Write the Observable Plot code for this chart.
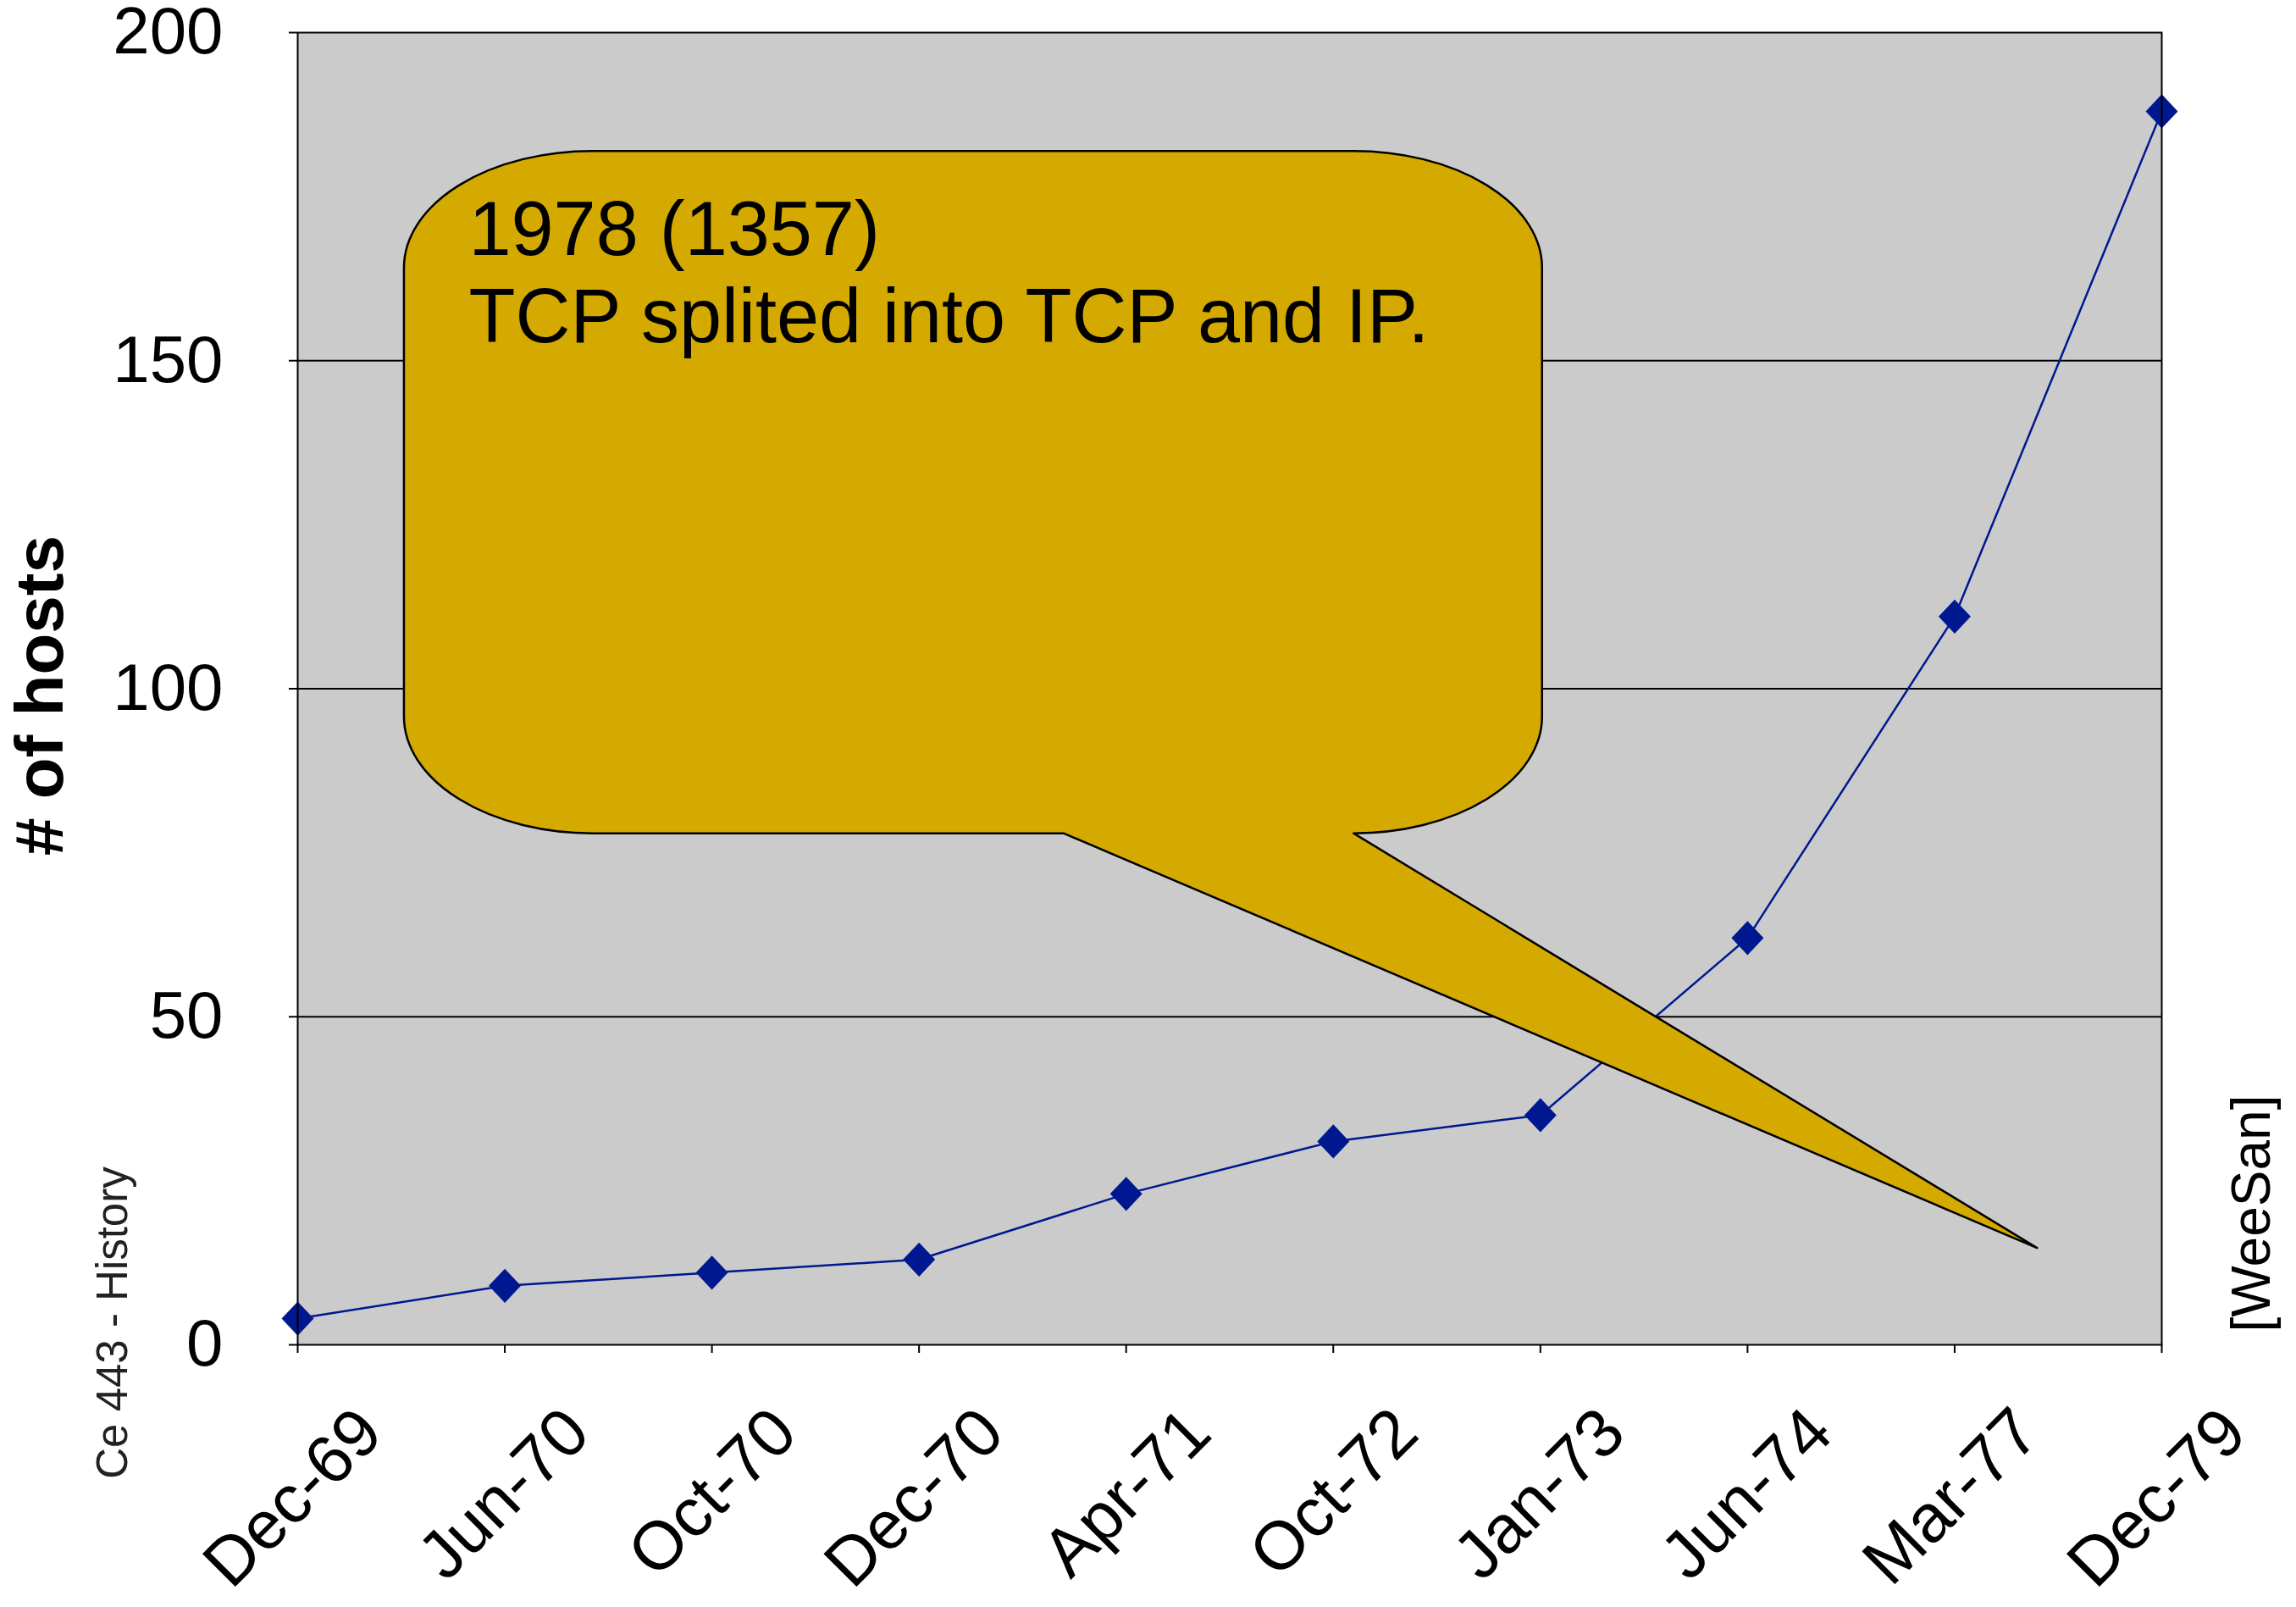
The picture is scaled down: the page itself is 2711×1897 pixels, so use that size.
<!DOCTYPE html>
<html><head><meta charset="utf-8">
<script src="https://cdn.jsdelivr.net/npm/d3@7"></script>
<script src="https://cdn.jsdelivr.net/npm/@observablehq/plot@0.6"></script>
<style>html,body{margin:0;padding:0;background:#fff}</style>
</head><body><div id="chart"></div>
<script>
const categories = ["Dec-69","Jun-70","Oct-70","Dec-70","Apr-71","Oct-72","Jan-73","Jun-74","Mar-77","Dec-79"];
const hosts = [4, 9, 11, 13, 23, 31, 35, 62, 111, 188];
const yTicks = [0, 50, 100, 150, 200];
const gridValues = [50, 100, 150];
const calloutLines = ["1978 (1357)", "TCP splited into TCP and IP."];
const yAxisTitle = "# of hosts";
const leftNote = "Ce 443 - History";
const rightNote = "[WeeSan]";

// callout geometry expressed in data units (x = category index, y = hosts)
const callout = {left: 0.515, right: 6.01, top: 181.9, bottom: 77.9, cornerX: 0.91, cornerY: 17.8,
                 baseLeft: 3.70, tipX: 8.40, tipY: 14.7, textX: 0.826, textY: 175.6};

const rows = categories.map((c, i) => ({i, label: c, hosts: hosts[i]}));
const FONT = "'Liberation Sans', Arial, Helvetica, sans-serif";
const BLUE = "#00188f";

const diamond = {
  draw(ctx, size) {
    const r = Math.sqrt(size / Math.PI);
    const hw = r * 1.15, hh = r * 1.22;
    ctx.moveTo(0, -hh); ctx.lineTo(hw, 0); ctx.lineTo(0, hh); ctx.lineTo(-hw, 0); ctx.closePath();
  }
};

function calloutMark(index, scales) {
  const x = scales.x, y = scales.y, c = callout;
  const L = x(c.left), R = x(c.right), T = y(c.top), B = y(c.bottom);
  const rx = x(c.left + c.cornerX) - L;
  const ry = y(c.bottom) - y(c.bottom + c.cornerY);
  const d = `M${L},${T + ry} A${rx},${ry} 0 0 1 ${L + rx},${T} H${R - rx} A${rx},${ry} 0 0 1 ${R},${T + ry} V${B - ry} A${rx},${ry} 0 0 1 ${R - rx},${B} L${x(c.tipX)},${y(c.tipY)} L${x(c.baseLeft)},${B} H${L + rx} A${rx},${ry} 0 0 1 ${L},${B - ry} Z`;
  return d3.create("svg:path")
    .attr("d", d).attr("fill", "#d4a900").attr("stroke", "black")
    .attr("stroke-width", 2.5).attr("stroke-linejoin", "round").node();
}

const chart = Plot.plot({
  width: 2711,
  height: 1897,
  marginLeft: 351,
  marginRight: 159,
  marginTop: 38,
  marginBottom: 310,
  style: {fontFamily: FONT, fontSize: "78px", background: "white", color: "black", overflow: "visible"},
  x: {type: "linear", domain: [0, 9]},
  y: {type: "linear", domain: [0, 200]},
  marks: [
    Plot.frame({fill: "#cbcbcb"}),
    Plot.ruleY(gridValues, {stroke: "black", strokeWidth: 2}),
    Plot.line(rows, {x: "i", y: "hosts", stroke: BLUE, strokeWidth: 2.5}),
    Plot.dot(rows, {x: "i", y: "hosts", r: 16.5, fill: BLUE, stroke: "none", symbol: diamond}),
    calloutMark,
    Plot.text([calloutLines.join("\n")], {x: () => callout.textX, y: () => callout.textY, text: d => d,
      textAnchor: "start", lineAnchor: "top", lineHeight: 1.15, fontSize: 90, fill: "black"}),
    Plot.frame({stroke: "black", strokeWidth: 2}),
    Plot.axisY({ticks: yTicks, tickSize: 10, tickPadding: 78, fontSize: 78, strokeWidth: 2, label: null, tickFormat: d => String(d)}),
    Plot.axisX({ticks: d3.range(categories.length), tickSize: 10, tickFormat: () => "", strokeWidth: 2, label: null}),
    Plot.text(rows, {x: "i", frameAnchor: "bottom", text: "label", rotate: -45, textAnchor: "end",
      lineAnchor: "bottom", dx: 104, dy: 108, fontSize: 80, fill: "black"}),
    Plot.text([yAxisTitle], {frameAnchor: "left", text: d => d, rotate: -90, dx: -303, dy: 8,
      textAnchor: "middle", fontSize: 80, fontWeight: "bold", fill: "black"}),
    Plot.text([leftNote], {frameAnchor: "bottom-left", text: d => d, rotate: -90, dx: -202, dy: -26,
      fontSize: 51, fill: "#222", textAnchor: "middle"}),
    Plot.text([rightNote], {frameAnchor: "bottom-right", text: d => d, rotate: -90, dx: 127, dy: -155,
      fontSize: 64, fill: "black", textAnchor: "middle"})
  ]
});
document.getElementById("chart").appendChild(chart);
</script>
</body></html>
